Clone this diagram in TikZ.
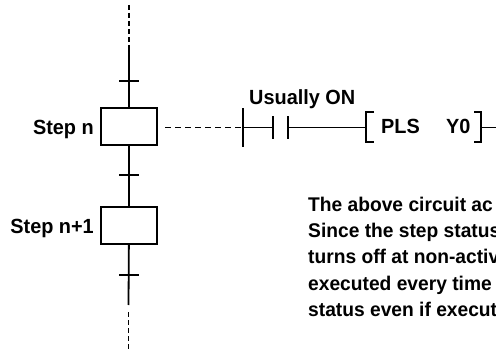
\documentclass[tikz,border=0pt]{standalone}
\usepackage{fontspec}
\setmainfont[BoldFeatures={FakeStretch=0.97}]{Liberation Sans}
\usetikzlibrary{positioning}
\begin{document}
\begin{tikzpicture}[x=1pt,y=-1pt,node distance=6pt,font=\fontsize{20.5}{26.2}\selectfont\bfseries,
stepbox/.style={draw,line width=2.1pt,minimum width=56pt,minimum height=37pt,outer sep=0pt},
tick/.style={fill=black,inner sep=0pt,minimum width=20pt,minimum height=2pt,outer sep=0pt},
plate/.style={fill=black,inner sep=0pt,minimum width=2pt,outer sep=0pt},
label/.style={inner sep=0pt,text depth=0pt},
w/.style={line width=1.8pt},d/.style={line width=1.8pt,dash pattern=on 5pt off 3pt},
dh/.style={line width=1.6pt,dash pattern=on 6pt off 4pt}]
\useasboundingbox (0,0) rectangle (496,350);
\node[stepbox] (stepn) at (129,126.5) {};
\node[stepbox,below=62pt of stepn] (stepm) {};
\node[label,left=7pt of stepn,yshift=-1pt] (labeln) {Step n};
\node[label,left=7pt of stepm,yshift=-1pt] (labelm) {Step n+1};
\node[tick] (tick1) at (129,81) {};
\node[tick] (tick2) at (129,175) {};
\node[tick] (tick3) at (128.5,275) {};
\coordinate (top) at (129,5); \coordinate (topj) at (129,46);
\coordinate (bot) at (128.5,350); \coordinate (botj) at (128.5,305);
\draw[d] (top)--(topj); \draw[w] (topj)--(stepn); \draw[w] (stepn)--(stepm);
\draw[w] (stepm)--(botj); \draw[d] ([yshift=-7pt]botj)--(bot);
\node[plate,minimum height=39pt] (nca) at (243,127.5) {};
\node[plate,minimum height=23pt] (ncb) at (273,127.5) {};
\node[plate,minimum height=23pt] (ncc) at (288,127.5) {};
\coordinate (dash) at (165,127.5);
\draw[dh] (dash)--(nca.west);
\draw[w] (nca)--(ncb); \draw[w] (ncc)--(366,127.5) coordinate (lbr);
\node[label,anchor=base west] (usual) at (249,105) {Usually ON};
\node[label,anchor=base west] (pls) at (381,134) {PLS};
\node[label,anchor=base west] (yo) at (446,134) {Y0};
\coordinate (rbr) at (481,127.5); \coordinate (out) at (496,127.5);
\draw[w,line width=2.1pt] (374,112)-|(lbr)|-(374,142);
\draw[w,line width=2.1pt] (474,112)-|(rbr)|-(474,142);
\draw[w] (rbr)--(out);
\node[label,anchor=north west,align=left,font=\fontsize{19.8}{26.2}\selectfont\bfseries] (note) at (308,197) {The above circuit ac\\Since the step status\\turns off at non-activ\\executed every time\\status even if execut};
\end{tikzpicture}
\end{document}
